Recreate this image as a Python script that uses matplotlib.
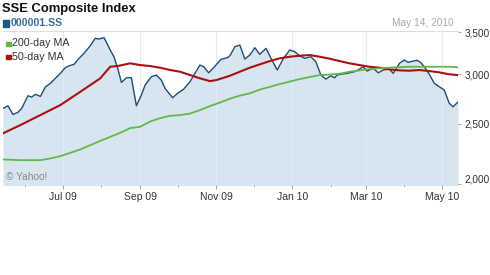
import matplotlib
matplotlib.use("Agg")
import matplotlib.pyplot as plt
import matplotlib.dates as mdates
from matplotlib.patches import Rectangle
from matplotlib.ticker import FixedLocator, FuncFormatter
import pandas as pd

plt.rcParams['font.family'] = ['Liberation Sans', 'DejaVu Sans']

# SSE Composite closing prices
price_dates = [
    "2009-05-14", "2009-05-18", "2009-05-22", "2009-05-26", "2009-05-29",
    "2009-06-03", "2009-06-06", "2009-06-09", "2009-06-13", "2009-06-17",
    "2009-06-21", "2009-06-25", "2009-06-29", "2009-07-03", "2009-07-06",
    "2009-07-10", "2009-07-14", "2009-07-18", "2009-07-23", "2009-07-27",
    "2009-07-30", "2009-08-03", "2009-08-05", "2009-08-08", "2009-08-11",
    "2009-08-14", "2009-08-17", "2009-08-21", "2009-08-25", "2009-08-29",
    "2009-09-02", "2009-09-05", "2009-09-10", "2009-09-14", "2009-09-18",
    "2009-09-21", "2009-09-27", "2009-10-01", "2009-10-06", "2009-10-11",
    "2009-10-15", "2009-10-19", "2009-10-22", "2009-10-26", "2009-10-30",
    "2009-11-02", "2009-11-05", "2009-11-10", "2009-11-12", "2009-11-16",
    "2009-11-20", "2009-11-24", "2009-11-28", "2009-12-02", "2009-12-06",
    "2009-12-11", "2009-12-15", "2009-12-20", "2009-12-25", "2009-12-30",
    "2010-01-03", "2010-01-07", "2010-01-11", "2010-01-16", "2010-01-20",
    "2010-01-24", "2010-01-28", "2010-02-01", "2010-02-04", "2010-02-06",
    "2010-02-09", "2010-02-14", "2010-02-20", "2010-02-24", "2010-02-27",
    "2010-03-02", "2010-03-07", "2010-03-11", "2010-03-15", "2010-03-20",
    "2010-03-23", "2010-03-26", "2010-03-28", "2010-04-01", "2010-04-04",
    "2010-04-08", "2010-04-11", "2010-04-14", "2010-04-17", "2010-04-21",
    "2010-04-25", "2010-04-29", "2010-05-03", "2010-05-05", "2010-05-07",
    "2010-05-10", "2010-05-14",
]
price = [
    2643, 2669, 2585, 2605, 2643,
    2769, 2756, 2784, 2763, 2860,
    2899, 2953, 3008, 3071, 3093,
    3109, 3179, 3238, 3330, 3422,
    3414, 3430, 3372, 3278, 3198,
    3064, 2909, 2959, 2959, 2669,
    2776, 2881, 2970, 2989, 2934,
    2846, 2749, 2794, 2838, 2916,
    3008, 3101, 3082, 3014, 3071,
    3121, 3167, 3186, 3209, 3318,
    3339, 3171, 3218, 3306, 3226,
    3298, 3179, 3045, 3179, 3278,
    3257, 3209, 3179, 3198, 3139,
    2989, 2945, 2981, 2959, 2989,
    2997, 3008, 3026, 3056, 3082,
    3033, 3064, 3014, 3045, 3056,
    3008, 3071, 3121, 3159, 3132,
    3147, 3156, 3132, 3082, 2997,
    2899, 2863, 2828, 2759, 2693,
    2659, 2706,
]

ma50_dates = [
    "2009-05-14", "2009-05-28", "2009-06-13", "2009-06-29", "2009-07-15",
    "2009-07-31", "2009-08-08", "2009-08-15", "2009-08-24", "2009-09-01",
    "2009-09-09", "2009-09-17", "2009-09-25", "2009-10-03", "2009-10-11",
    "2009-10-19", "2009-10-27", "2009-11-01", "2009-11-07", "2009-11-12",
    "2009-11-20", "2009-11-28", "2009-12-06", "2009-12-14", "2009-12-22",
    "2009-12-30", "2010-01-07", "2010-01-15", "2010-01-23", "2010-01-31",
    "2010-02-08", "2010-02-16", "2010-02-24", "2010-03-04", "2010-03-12",
    "2010-03-20", "2010-03-28", "2010-04-05", "2010-04-13", "2010-04-21",
    "2010-04-29", "2010-05-07", "2010-05-14",
]
ma50 = [
    2411, 2486, 2579, 2676, 2810,
    2953, 3082, 3093, 3121, 3101,
    3090, 3071, 3045, 3026, 2989,
    2953, 2923, 2934, 2959, 2981,
    3026, 3071, 3109, 3147, 3179,
    3198, 3209, 3218, 3198, 3175,
    3147, 3121, 3101, 3082, 3071,
    3052, 3041, 3037, 3045, 3033,
    3019, 2997, 2989,
]

ma200_dates = [
    "2009-05-14", "2009-05-28", "2009-06-13", "2009-06-21", "2009-06-29",
    "2009-07-07", "2009-07-15", "2009-07-23", "2009-07-31", "2009-08-08",
    "2009-08-16", "2009-08-24", "2009-09-01", "2009-09-09", "2009-09-17",
    "2009-09-25", "2009-10-03", "2009-10-11", "2009-10-19", "2009-10-27",
    "2009-11-04", "2009-11-12", "2009-11-20", "2009-11-28", "2009-12-06",
    "2009-12-22", "2010-01-07", "2010-01-23", "2010-01-31", "2010-02-08",
    "2010-02-16", "2010-03-04", "2010-03-20", "2010-04-05", "2010-04-21",
    "2010-05-07", "2010-05-14",
]
ma200 = [
    2190, 2184, 2184, 2198, 2217,
    2244, 2272, 2308, 2345, 2380,
    2416, 2458, 2470, 2518, 2550,
    2572, 2579, 2593, 2627, 2666,
    2701, 2739, 2771, 2794, 2833,
    2891, 2945, 2989, 2994, 3003,
    3026, 3056, 3071, 3082, 3082,
    3082, 3075,
]

y_ticks = [2000, 2500, 3000, 3500]

price_dates = pd.to_datetime(price_dates)
ma50_dates = pd.to_datetime(ma50_dates)
ma200_dates = pd.to_datetime(ma200_dates)

W, H = 490, 275
fig = plt.figure(figsize=(W / 100, H / 100), dpi=100)
ax = fig.add_axes([3 / W, 1 - 185 / H, 455 / W, 154 / H])

ax.set_yscale('log')
ax.set_ylim(1993, 3516)
ax.set_xlim(pd.Timestamp("2009-05-14"), pd.Timestamp("2010-05-14"))

ax.fill_between(price_dates, price, 1900, color='#d7e5f1', lw=0, zorder=1)
ax.plot(price_dates, price, color='#1d4d78', lw=1.0, zorder=3)
ax.plot(ma50_dates, ma50, color='#ab1010', lw=1.5, zorder=4)
ax.plot(ma200_dates, ma200, color='#63b847', lw=1.3, zorder=5)

ax.xaxis.set_major_locator(mdates.MonthLocator(bymonth=[1, 3, 5, 7, 9, 11]))
ax.xaxis.set_minor_locator(mdates.MonthLocator(bymonth=[2, 4, 6, 8, 10, 12]))
ax.xaxis.set_major_formatter(mdates.DateFormatter('%b %y'))
ax.grid(axis='x', which='major', color='#e4eaf1', lw=0.8, zorder=2)

ax.yaxis.tick_right()
ax.yaxis.set_major_locator(FixedLocator(y_ticks))
ax.yaxis.set_minor_locator(FixedLocator([]))
ax.yaxis.set_major_formatter(FuncFormatter(lambda v, p: f"{int(v):,}"))

ax.tick_params(axis='x', which='major', length=3, width=0.6, color='#999999',
               labelsize=7.5, labelcolor='#333333', pad=2)
ax.tick_params(axis='x', which='minor', length=1.5, width=0.6, color='#999999')
ax.tick_params(axis='y', length=2.5, width=0.6, color='#999999',
               labelsize=7.2, labelcolor='#333333', pad=2)

for s in ['left', 'right', 'bottom']:
    ax.spines[s].set_visible(False)
ax.spines['top'].set_color('#dddddd')
ax.spines['top'].set_linewidth(0.8)

# header
fig.text(2 / W, 1 - 9 / H, "SSE Composite Index", fontsize=9.4, fontweight='bold',
         color='#111111', va='center', ha='left')
fig.patches.append(Rectangle((3 / W, 1 - 26.5 / H), 5.5 / W, 6 / H,
                             transform=fig.transFigure, color='#1f5582'))
fig.text(11 / W, 1 - 23.5 / H, "000001.SS", fontsize=7.6, fontweight='bold',
         color='#3a6f9f', va='center', ha='left')
fig.text(454 / W, 1 - 23.5 / H, "May 14, 2010", fontsize=7.3,
         color='#aaaaaa', va='center', ha='right')

# legend
fig.patches.append(Rectangle((6 / W, 1 - 46 / H), 4.5 / W, 4.5 / H,
                             transform=fig.transFigure, color='#63b847'))
fig.text(12 / W, 1 - 43.5 / H, "200-day MA", fontsize=7.7, color='#333333',
         va='center', ha='left')
fig.patches.append(Rectangle((6 / W, 1 - 59 / H), 4.5 / W, 4.5 / H,
                             transform=fig.transFigure, color='#ab1010'))
fig.text(12 / W, 1 - 56.5 / H, "50-day MA", fontsize=7.7, color='#333333',
         va='center', ha='left')

fig.text(6 / W, 1 - 176.5 / H, "\u00a9 Yahoo!", fontsize=7.3, color='#888888',
         va='center', ha='left')

# bottom label sits a little higher, like the original
fig.canvas.draw()
for t in ax.yaxis.get_major_ticks():
    if abs(t.get_loc() - 2000) < 1:
        t.label2.set_verticalalignment('bottom')

fig.savefig("out.png", dpi=100)
